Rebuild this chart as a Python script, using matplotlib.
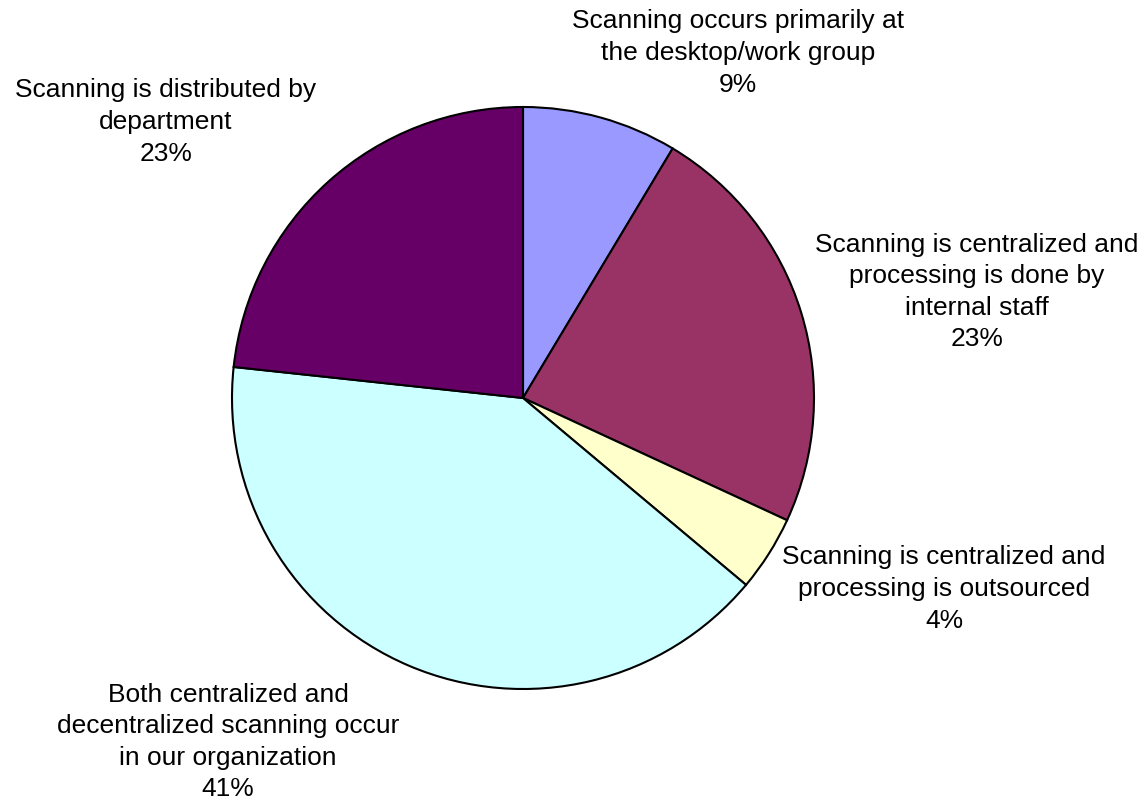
import matplotlib
matplotlib.use('Agg')
import matplotlib.pyplot as plt

# slice data, clockwise from 12 o'clock
categories = ['Scanning occurs primarily at\nthe desktop/work group',
              'Scanning is centralized and\nprocessing is done by\ninternal staff',
              'Scanning is centralized and\nprocessing is outsourced',
              'Both centralized and\ndecentralized scanning occur\nin our organization',
              'Scanning is distributed by\ndepartment']
values = [8.6, 23.3, 4.2, 40.6, 23.3]
colors = ['#9999FF', '#993366', '#FFFFCC', '#CCFFFF', '#660066']

# label centres in pixels (x, y from top)
label_px = [(738, 53), (977, 292), (944, 589), (228, 742), (166, 122)]

W, H = 1145, 809
cx, cy, r = 523, 398, 291

plt.rcParams['font.family'] = ['Liberation Sans', 'DejaVu Sans']
fig = plt.figure(figsize=(W / 100, H / 100), dpi=100)
ax = fig.add_axes([0, 0, 1, 1])

ax.pie(values, colors=colors, startangle=90, counterclock=False,
       wedgeprops=dict(edgecolor='black', linewidth=1.5))

ax.set_xlim(-cx / r, (W - cx) / r)
ax.set_ylim(-(H - cy) / r, cy / r)
ax.set_aspect('auto')
ax.axis('off')

for cat, v, (px, py) in zip(categories, values, label_px):
    ax.text((px - cx) / r, (cy - py) / r, f'{cat}\n{round(v)}%',
            ha='center', va='center', fontsize=19, linespacing=1.4,
            multialignment='center')

fig.savefig('out.png', dpi=100)
